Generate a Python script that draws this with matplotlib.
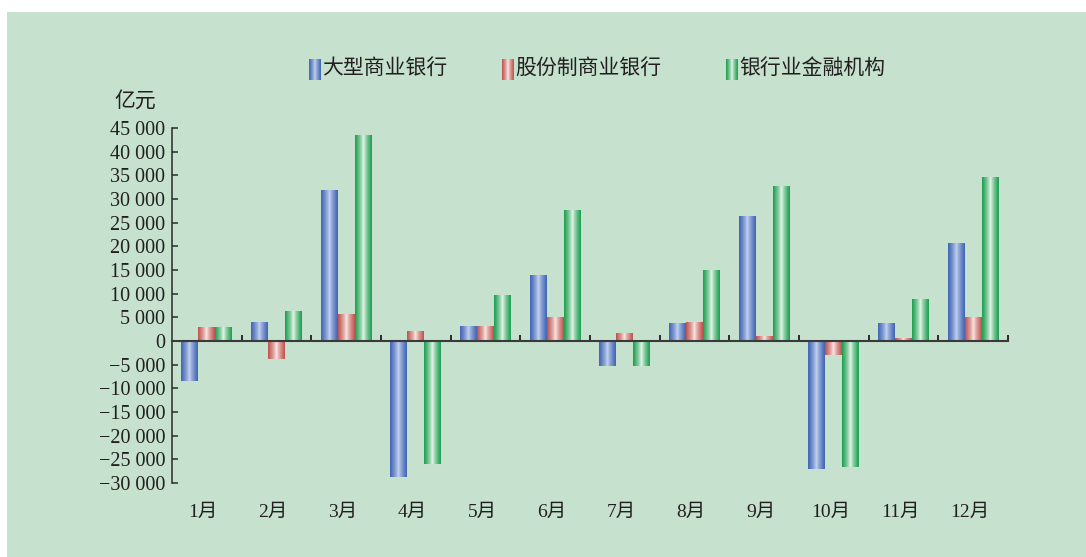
import matplotlib
matplotlib.use('Agg')
import matplotlib.pyplot as plt
import matplotlib.colors as mcolors
from matplotlib.patches import Rectangle
from matplotlib.transforms import blended_transform_factory
import numpy as np

# data (亿元)
months = ['1月', '2月', '3月', '4月', '5月', '6月',
          '7月', '8月', '9月', '10月', '11月', '12月']
series_names = ['大型商业银行', '股份制商业银行', '银行业金融机构']
large_banks = [-8500, 4000, 31700, -28800, 3000, 13900,
               -5300, 3800, 26200, -27000, 3600, 20500]
joint_stock = [2900, -3800, 5500, 2100, 3000, 4900,
               1500, 4000, 1000, -3000, 600, 4900]
all_banks = [2900, 6300, 43500, -26000, 9700, 27500,
             -5300, 14800, 32700, -26600, 8700, 34600]
yticks = list(range(-30000, 45001, 5000))

BG = '#c6e2ce'
edge_cols = ['#4164b4', '#bf524e', '#1a9e4e']
center_cols = ['#c8d6f0', '#fbeeea', '#eef8ee']
CJK = ['Noto Sans CJK SC', 'DejaVu Sans']
SERIF = ['Liberation Serif', 'Noto Sans CJK SC']


def grad_img(edge, center, n=64):
    e = np.array(mcolors.to_rgb(edge))
    c = np.array(mcolors.to_rgb(center))
    t = np.abs(np.linspace(-1, 1, n)) ** 0.75
    return (c[None, :] * (1 - t[:, None]) + e[None, :] * t[:, None])[None, :, :]


fig = plt.figure(figsize=(10.86, 5.57), dpi=100)
fig.patch.set_facecolor('white')
fig.patches.append(Rectangle((7 / 1086, 0), 1, 1 - 12 / 557, transform=fig.transFigure,
                             facecolor=BG, edgecolor='none', zorder=-10))

ax = fig.add_axes([172 / 1086, 1 - 483 / 557, 836 / 1086, 355 / 557])
ax.set_facecolor('none')

x = np.arange(1, 13)
w = 0.244
data = [large_banks, joint_stock, all_banks]
for i, vals in enumerate(data):
    bars = ax.bar(x + (i - 1) * w, vals, width=w, color='none', zorder=2)
    img = grad_img(edge_cols[i], center_cols[i])
    for p in bars.patches:
        x0, y0, h = p.get_x(), p.get_y(), p.get_height()
        ax.imshow(img, extent=(x0, x0 + p.get_width(), min(y0, y0 + h), max(y0, y0 + h)),
                  aspect='auto', zorder=2, interpolation='bilinear')

ax.set_xlim(0.5, 12.5)
ax.set_ylim(-30000, 45000)

for s in ['top', 'right']:
    ax.spines[s].set_visible(False)
ax.spines['bottom'].set_position(('data', 0))
ax.spines['left'].set_color('#2a2a2a')
ax.spines['bottom'].set_color('#3a3a3a')
ax.spines['left'].set_linewidth(1.1)
ax.spines['bottom'].set_linewidth(1.5)
ax.spines['bottom'].set_zorder(3)

ax.set_xticks(np.arange(1.5, 13, 1))
ax.set_xticklabels([])
ax.tick_params(axis='x', direction='in', length=4, width=1.4, color='#2a2a2a')

ax.set_yticks(yticks)
ax.set_yticklabels([f'{v:,}'.replace(',', ' ').replace('-', '\u2212') for v in yticks],
                   family=SERIF, fontsize=14.5, color='#231f20')
ax.tick_params(axis='y', direction='in', length=4, width=1.1, color='#2a2a2a', pad=5)

trans = blended_transform_factory(ax.transData, fig.transFigure)
for xi, m in zip(x, months):
    ax.text(xi - 0.05, 1 - 512 / 557, m, transform=trans, ha='center', va='center',
            family=SERIF, fontsize=14, color='#231f20')

fig.text(135 / 1086, 1 - 101 / 557, '亿元', ha='center', va='center',
         family=CJK, fontsize=15, color='#231f20')

# legend
icon_x = [309, 502, 726]
for i, name in enumerate(series_names):
    iax = fig.add_axes([icon_x[i] / 1086, 1 - 80 / 557, 12 / 1086, 21 / 557])
    iax.imshow(grad_img(edge_cols[i], center_cols[i]), aspect='auto', interpolation='bilinear')
    iax.axis('off')
    fig.text((icon_x[i] + 13) / 1086, 1 - 68 / 557, name, ha='left', va='center',
             family=CJK, fontsize=15, color='#231f20')

fig.savefig('out.png', dpi=100, facecolor=fig.get_facecolor())
